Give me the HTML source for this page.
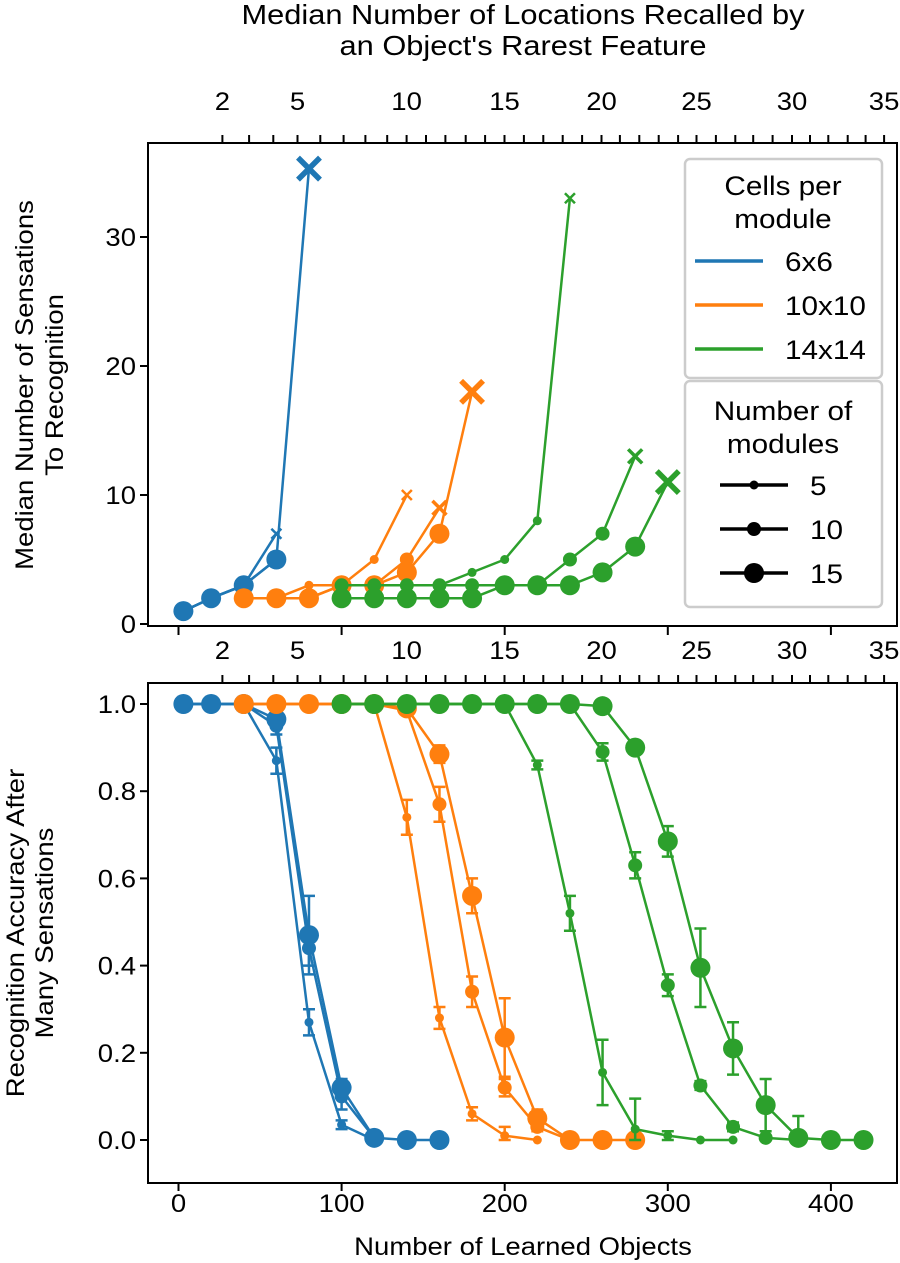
<!DOCTYPE html>
<html><head><meta charset="utf-8">
<style>
body{margin:0;background:#fff;}
svg{display:block;font-family:"Liberation Sans",Arial,sans-serif;}
</style></head>
<body>
<svg id="chart" width="900" height="1263" viewBox="0 0 900 1263" xmlns="http://www.w3.org/2000/svg">
<g id="top-panel"></g>
<g id="bottom-panel"></g>
<g id="legend"></g>
</svg>
<script>
// ---- data ----
const colorNames = ['6x6','10x10','14x14'];
const colors = ['#1f77b4','#ff7f0e','#2ca02c'];
const moduleCounts = [5,10,15];
const xTicks = [0,100,200,300,400];
const topYTicks = [0,10,20,30];
const botYTicks = [0,0.2,0.4,0.6,0.8,1.0];
const locTickLabels = ['2','5','10','15','20','25','30','35'];

// top panel: median sensations
const topBlue5X = [3,20,40,60];            const topBlue5Y = [1,2,3,7];
const topBlue10X = [3,20,40,60];           const topBlue10Y = [1,2,3,5];
const topBlue15X = [3,20,40,60,80];        const topBlue15Y = [1,2,3,5,35.3];
const topOrange5X = [40,60,80,100,120,140];          const topOrange5Y = [2,2,3,3,5,10];
const topOrange10X = [40,60,80,100,120,140,160];     const topOrange10Y = [2,2,2,3,3,5,9];
const topOrange15X = [40,60,80,100,120,140,160,180]; const topOrange15Y = [2,2,2,3,3,4,7,18];
const topGreen5X = [100,120,140,160,180,200,220,240]; const topGreen5Y = [3,3,3,3,4,5,8,33];
const topGreen10X = [100,120,140,160,180,200,220,240,260,280]; const topGreen10Y = [3,3,3,3,3,3,3,5,7,13];
const topGreen15X = [100,120,140,160,180,200,220,240,260,280,300]; const topGreen15Y = [2,2,2,2,2,3,3,3,4,6,11];

// bottom panel: accuracy
const botBlue5X = [3,20,40,60,80,100,120];     const botBlue5Y = [1,1,1,0.87,0.27,0.035,0];
const botBlue5E = [0,0,0,0.03,0.03,0.01,0];
const botBlue10X = [3,20,40,60,80,100,120];    const botBlue10Y = [1,1,1,0.95,0.44,0.10,0.005];
const botBlue10E = [0,0,0,0.02,0.04,0.03,0.005];
const botBlue15X = [3,20,40,60,80,100,120,140,160]; const botBlue15Y = [1,1,1,0.965,0.47,0.12,0.005,0,0];
const botBlue15E = [0,0,0,0.01,0.09,0.02,0.01,0,0];
const botOrange5X = [40,60,80,100,120,140,160,180,200,220];  const botOrange5Y = [1,1,1,1,1,0.74,0.28,0.06,0.01,0];
const botOrange5E = [0,0,0,0,0,0.04,0.025,0.015,0.02,0];
const botOrange10X = [40,60,80,100,120,140,160,180,200,220,240]; const botOrange10Y = [1,1,1,1,1,0.985,0.77,0.34,0.12,0.03,0];
const botOrange10E = [0,0,0,0,0,0.01,0.04,0.035,0.02,0.01,0];
const botOrange15X = [40,60,80,100,120,140,160,180,200,220,240,260,280]; const botOrange15Y = [1,1,1,1,1,0.99,0.885,0.56,0.235,0.05,0,0,0];
const botOrange15E = [0,0,0,0,0,0.01,0.02,0.04,0.09,0.02,0,0,0];
const botGreen5X = [100,120,140,160,180,200,220,240,260,280,300,320,340]; const botGreen5Y = [1,1,1,1,1,1,0.86,0.52,0.155,0.025,0.01,0,0];
const botGreen5E = [0,0,0,0,0,0,0.01,0.04,0.075,0.07,0.01,0,0];
const botGreen10X = [100,120,140,160,180,200,220,240,260,280,300,320,340,360,380]; const botGreen10Y = [1,1,1,1,1,1,1,1,0.89,0.63,0.355,0.125,0.03,0.005,0];
const botGreen10E = [0,0,0,0,0,0,0,0,0.02,0.03,0.025,0.01,0.01,0,0];
const botGreen15X = [100,120,140,160,180,200,220,240,260,280,300,320,340,360,380,400,420]; const botGreen15Y = [1,1,1,1,1,1,1,1,0.995,0.9,0.685,0.395,0.21,0.08,0.005,0,0];
const botGreen15E = [0,0,0,0,0,0,0,0,0.005,0.01,0.035,0.09,0.06,0.06,0.05,0,0];

// ---- helpers ----
const NS='http://www.w3.org/2000/svg';
function mk(parent,tag,attrs,text){const e=document.createElementNS(NS,tag);for(const k in attrs)e.setAttribute(k,attrs[k]);if(text!==undefined)e.textContent=text;parent.appendChild(e);return e;}
const SX=1.1;
// horizontally stretched text
function txt(parent,x,y,size,anchor,str,rot){
  const tr=rot?`translate(${x},${y}) rotate(-90) scale(${SX},1)`:`translate(${x},${y}) scale(${SX},1)`;
  return mk(parent,'text',{transform:tr,'font-size':size,'text-anchor':anchor},str);
}
const X0=148,X1=897;
const xs=v=>178.5+1.631*v;
const ysTop=v=>624-12.9*v;
const ysBot=v=>1140-436*v;
const radii=[4.5,7,10];
const xSizes=[5,7,11];
const xWidths=[2.5,3.5,5.5];

const topG=document.getElementById('top-panel');
const botG=document.getElementById('bottom-panel');
const legG=document.getElementById('legend');

const locTickPx=[222.4,249.1,273.3,297.5,320.3,343.6,365.4,387.2,406.6,426,445.4,465.7,485.1,504.5,523.9,543.3,562.7,582.1,601.5,619.9,639.3,658.7,678.1,696.5,715.9,735.3,753.2,772.6,792,810,828.3,847.7,865.6,884.1];
const locMajorIdx=[0,3,8,13,18,23,28,33];

function drawLocAxis(g,boxTop,labelY){
  locTickPx.forEach(p=>{const t=mk(g,'line',{x1:p,x2:p,y1:boxTop,y2:boxTop-8,stroke:'#000','stroke-width':2});
    
    });
  locMajorIdx.forEach((i,k)=>{const t=txt(g,locTickPx[i],labelY,25,'middle',locTickLabels[k]);
    
    });
}

const svgEl=document.getElementById('chart');
let t=txt(svgEl,523,24,28,'middle','Median Number of Locations Recalled by');


t=txt(svgEl,523,55,28,'middle',"an Object's Rarest Feature");



// ---- top panel ----
drawLocAxis(topG,143,110);
topYTicks.forEach(v=>{const y=ysTop(v);
  const l=mk(topG,'line',{x1:X0-8,x2:X0,y1:y,y2:y,stroke:'#000','stroke-width':2});
  
  
  const tx=txt(topG,136,y+9,25,'end',String(v));
  
  });
xTicks.forEach(v=>{const x=xs(v);
  const l=mk(topG,'line',{x1:x,x2:x,y1:626,y2:635,stroke:'#000','stroke-width':2});
  
  });
t=txt(topG,33,385,25,'middle','Median Number of Sensations',true);


t=txt(topG,63,385,25,'middle','To Recognition',true);



const topSeries=[
 [topBlue5X,topBlue5Y,0,0],[topBlue10X,topBlue10Y,0,1],[topBlue15X,topBlue15Y,0,2],
 [topOrange5X,topOrange5Y,1,0],[topOrange10X,topOrange10Y,1,1],[topOrange15X,topOrange15Y,1,2],
 [topGreen5X,topGreen5Y,2,0],[topGreen10X,topGreen10Y,2,1],[topGreen15X,topGreen15Y,2,2]];
topSeries.forEach(([X,Y,c,m])=>{
  const g=mk(topG,'g',{});
  
  
  const pts=X.map((x,i)=>xs(x)+','+ysTop(Y[i])).join(' ');
  mk(g,'polyline',{points:pts,fill:'none',stroke:colors[c],'stroke-width':2.5,'stroke-linejoin':'round'});
  X.forEach((x,i)=>{const cx=xs(x),cy=ysTop(Y[i]);
    if(i===X.length-1){const s=xSizes[m];
      const p=mk(g,'path',{d:`M${cx-s},${cy-s}L${cx+s},${cy+s}M${cx-s},${cy+s}L${cx+s},${cy-s}`,stroke:colors[c],'stroke-width':xWidths[m],fill:'none'});
      
      
    } else {
      const p=mk(g,'circle',{cx,cy,r:radii[m],fill:colors[c]});
      
      
    }});
});
let box=mk(topG,'rect',{x:X0,y:143,width:X1-X0,height:483,fill:'none',stroke:'#000','stroke-width':2});



// ---- bottom panel ----
drawLocAxis(botG,683,659);
botYTicks.forEach(v=>{const y=ysBot(v);
  const l=mk(botG,'line',{x1:X0-8,x2:X0,y1:y,y2:y,stroke:'#000','stroke-width':2});
  
  
  const tx=txt(botG,136,y+9,25,'end',v.toFixed(1));
  
  });
xTicks.forEach(v=>{const x=xs(v);
  const l=mk(botG,'line',{x1:x,x2:x,y1:1183,y2:1191,stroke:'#000','stroke-width':2});
  
  
  const tx=txt(botG,x,1212,25,'middle',String(v));
  
  });
t=txt(botG,523,1255,25,'middle','Number of Learned Objects');


t=txt(botG,24,933,25,'middle','Recognition Accuracy After',true);


t=txt(botG,53,933,25,'middle','Many Sensations',true);



const botSeries=[
 [botBlue5X,botBlue5Y,botBlue5E,0,0],[botBlue10X,botBlue10Y,botBlue10E,0,1],[botBlue15X,botBlue15Y,botBlue15E,0,2],
 [botOrange5X,botOrange5Y,botOrange5E,1,0],[botOrange10X,botOrange10Y,botOrange10E,1,1],[botOrange15X,botOrange15Y,botOrange15E,1,2],
 [botGreen5X,botGreen5Y,botGreen5E,2,0],[botGreen10X,botGreen10Y,botGreen10E,2,1],[botGreen15X,botGreen15Y,botGreen15E,2,2]];
botSeries.forEach(([X,Y,E,c,m])=>{
  const g=mk(botG,'g',{});
  
  
  const pts=X.map((x,i)=>xs(x)+','+ysBot(Y[i])).join(' ');
  mk(g,'polyline',{points:pts,fill:'none',stroke:colors[c],'stroke-width':2.5,'stroke-linejoin':'round'});
  X.forEach((x,i)=>{const cx=xs(x);
    if(E[i]>0){const y1=ysBot(Math.min(1,Y[i]+E[i])),y2=ysBot(Math.max(0,Y[i]-E[i]));
      const eb=mk(g,'path',{d:`M${cx},${y1}V${y2}M${cx-6},${y1}H${cx+6}M${cx-6},${y2}H${cx+6}`,stroke:colors[c],'stroke-width':2.5,fill:'none'});
      
      }
    const p=mk(g,'circle',{cx,cy:ysBot(Y[i]),r:radii[m],fill:colors[c]});
    
    });
});
box=mk(botG,'rect',{x:X0,y:683,width:X1-X0,height:500,fill:'none',stroke:'#000','stroke-width':2});



// ---- legend ----
let lb=mk(legG,'rect',{x:685,y:159,width:197,height:219,rx:5,fill:'#fff','fill-opacity':0.85,stroke:'#ccc','stroke-width':2.5});


t=txt(legG,783,195,27,'middle','Cells per');


t=txt(legG,783,228,27,'middle','module');


colorNames.forEach((n,i)=>{const y=261+i*44;
  const e=mk(legG,'g',{});
  
  
  mk(e,'line',{x1:695,x2:763,y1:y,y2:y,stroke:colors[i],'stroke-width':3.5});
  txt(e,785,y+10,27,'start',n);});
lb=mk(legG,'rect',{x:685,y:381,width:197,height:226,rx:5,fill:'#fff','fill-opacity':0.85,stroke:'#ccc','stroke-width':2.5});


t=txt(legG,783,420,27,'middle','Number of');


t=txt(legG,783,453,27,'middle','modules');


moduleCounts.forEach((n,i)=>{const y=485+i*44;
  const e=mk(legG,'g',{});
  
  
  mk(e,'line',{x1:720,x2:788,y1:y,y2:y,stroke:'#000','stroke-width':3.5});
  mk(e,'circle',{cx:754,cy:y,r:radii[i],fill:'#000'});
  txt(e,810,y+10,27,'start',String(n));});
</script>
</body></html>
